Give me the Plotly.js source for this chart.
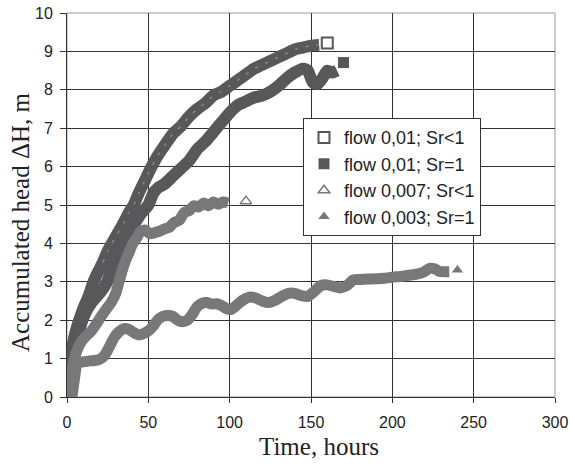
<!DOCTYPE html>
<html>
<head>
<meta charset="utf-8">
<script src="https://cdn.plot.ly/plotly-3.0.1.min.js"></script>
<style>html,body{margin:0;padding:0;background:#fff;}#chart{width:570px;height:468px;}</style>
</head>
<body>
<div id="chart"></div>
<script>
// Series 1: flow 0,01; Sr<1
const t1 = [0,1,2,3,5,7.5,10,13,16.3,19,22,25,27.6,31,35,38,41,44,48,52,56,60,65,70,75,80,85,90,95,100,105,110,115,120,125,130,135,140,145,150,155];
const v1 = [0,0.5,1.0,1.25,1.65,2.0,2.3,2.6,3.0,3.25,3.5,3.8,4.0,4.25,4.55,4.8,5.0,5.3,5.65,6.0,6.3,6.55,6.85,7.05,7.3,7.5,7.65,7.85,7.95,8.1,8.25,8.4,8.55,8.65,8.75,8.85,8.95,9.05,9.1,9.15,9.17];
const end1 = {t: 160, v: 9.22};
// Series 2: flow 0,01; Sr=1
const t2 = [0,1,2,3.5,5,7,9.5,12,15,18,21,24.7,28,31,34,38,42,46,50,53,56,60,65,70,75,80,85,90,95,100,105,110,115,120,125,130,135,140,145,148,151,154,157,160,163,166];
const v2 = [0,0.3,0.6,1.0,1.3,1.65,2.0,2.25,2.45,2.6,2.75,3.0,3.4,3.7,4.0,4.3,4.55,4.8,5.0,5.3,5.45,5.55,5.75,5.95,6.15,6.45,6.65,6.9,7.15,7.4,7.6,7.7,7.8,7.85,7.95,8.1,8.3,8.45,8.55,8.5,8.2,8.15,8.3,8.5,8.45,8.5];
const end2 = {t: 170, v: 8.71};
// Series 3: flow 0,007; Sr<1
const t3 = [0,2,4,6,9,12,15,18,21,24,27,30,32,34,36,38,40.5,43,45,48,51,54,57,60,63,66,69,72,75,78,81,84,87,90,93,96,99];
const v3 = [0,0.5,0.9,1.2,1.45,1.6,1.72,1.9,2.1,2.28,2.45,2.7,3.0,3.3,3.55,3.75,4.0,4.15,4.3,4.35,4.25,4.28,4.32,4.38,4.42,4.55,4.6,4.8,4.85,4.98,4.95,5.05,4.98,5.08,5.02,5.08,5.05];
const end3 = {t: 110, v: 5.1};
// Series 4: flow 0,003; Sr=1
const t4 = [3,4,5,6,8,11,14,17,20,23,26,29,32,35,38,41,44,47,50,53,56,59,62,65,68,71,74,77,80,83,86,89,92,95,98,101,104,108,112,116,120,124,128,132,136,140,144,148,152,156,160,164,168,172,176,180,185,190,195,200,205,210,215,219,223,226,229,232,235];
const v4 = [0,0.3,0.6,0.85,0.9,0.92,0.94,0.95,0.98,1.08,1.3,1.55,1.7,1.78,1.76,1.68,1.62,1.65,1.72,1.85,2.02,2.1,2.12,2.1,2.0,1.96,2.0,2.15,2.35,2.44,2.46,2.42,2.43,2.38,2.3,2.28,2.38,2.52,2.6,2.58,2.5,2.46,2.52,2.62,2.7,2.7,2.64,2.62,2.75,2.9,2.92,2.88,2.84,2.9,3.05,3.06,3.07,3.08,3.09,3.12,3.14,3.17,3.2,3.25,3.35,3.34,3.27,3.26,3.26];
const end4 = {t: 240, v: 3.31};

const names = ['flow 0,01; Sr<1','flow 0,01; Sr=1','flow 0,007; Sr<1','flow 0,003; Sr=1'];
const xTicks = [0,50,100,150,200,250,300];
const yTicks = [0,1,2,3,4,5,6,7,8,9,10];

const dark = '#58585a', mid = '#78787a';
const bands = [[t1,v1,dark,12],[t2,v2,dark,12],[t3,v3,mid,11],[t4,v4,mid,11]];
const ends = [
  [end1, {symbol:'square-open', color:dark, size:11, line:{width:2}}],
  [end2, {symbol:'square', color:dark, size:11}],
  [end3, {symbol:'triangle-up-open', color:mid, size:10, line:{width:1.5}}],
  [end4, {symbol:'triangle-up', color:mid, size:10}]
];
const data = [];
bands.forEach(b => data.push({x:b[0], y:b[1], mode:'lines', line:{color:b[2], width:b[3], shape:'spline', smoothing:0.6}, showlegend:false, hoverinfo:'skip'}));
// light streaks inside the open-square series (hollow marker centres)
data.splice(1, 0, {x:t1.slice(10), y:v1.slice(10), mode:'lines', line:{color:'#88888a', width:1.5, dash:'3px,8px', shape:'spline', smoothing:0.6}, showlegend:false, hoverinfo:'skip'});
ends.forEach((e,i) => data.push({x:[e[0].t], y:[e[0].v], mode:'markers', name:names[i], marker:e[1]}));

const layout = {
  width:570, height:468,
  margin:{l:67, r:15, t:13, b:71},
  paper_bgcolor:'#fff', plot_bgcolor:'#fff',
  font:{family:'"Liberation Sans", Arial, sans-serif', color:'#222'},
  xaxis:{range:[0,300], tickvals:xTicks, showgrid:true, gridcolor:'#333', gridwidth:1, zeroline:false,
         showline:true, linecolor:'#333', linewidth:1, ticks:'outside', ticklen:5, tickcolor:'#333',
         tickfont:{size:16, color:'#222'}, ticklabelstandoff:6, fixedrange:true},
  yaxis:{range:[0,10], tickvals:yTicks, showgrid:true, gridcolor:'#333', gridwidth:1, zeroline:false,
         showline:true, linecolor:'#333', linewidth:1, ticks:'outside', ticklen:6, tickcolor:'#333',
         tickfont:{size:16, color:'#222'}, ticklabelstandoff:4, fixedrange:true},
  shapes:[{type:'rect', xref:'paper', yref:'paper', x0:0, x1:1, y0:0, y1:1, line:{color:'#999', width:1}, layer:'below'}],
  legend:{x:0.4836, y:0.726, xanchor:'left', yanchor:'top', bgcolor:'#fff', bordercolor:'#333', borderwidth:1,
          font:{size:18, color:'#222'}, itemwidth:30},
  annotations:[
    {text:'Time, hours', xref:'paper', yref:'paper', x:0.516, y:-0.13, xanchor:'center', yanchor:'middle', showarrow:false,
     font:{family:'"Liberation Serif", "Times New Roman", serif', size:25, color:'#222'}},
    {text:'Accumulated head ΔH, m', xref:'paper', yref:'paper', x:-0.094, y:0.456, xanchor:'center', yanchor:'middle', textangle:-90, showarrow:false,
     font:{family:'"Liberation Serif", "Times New Roman", serif', size:25, color:'#222'}}
  ]
};
Plotly.newPlot('chart', data, layout, {displayModeBar:false, staticPlot:true});
</script>
</body>
</html>
